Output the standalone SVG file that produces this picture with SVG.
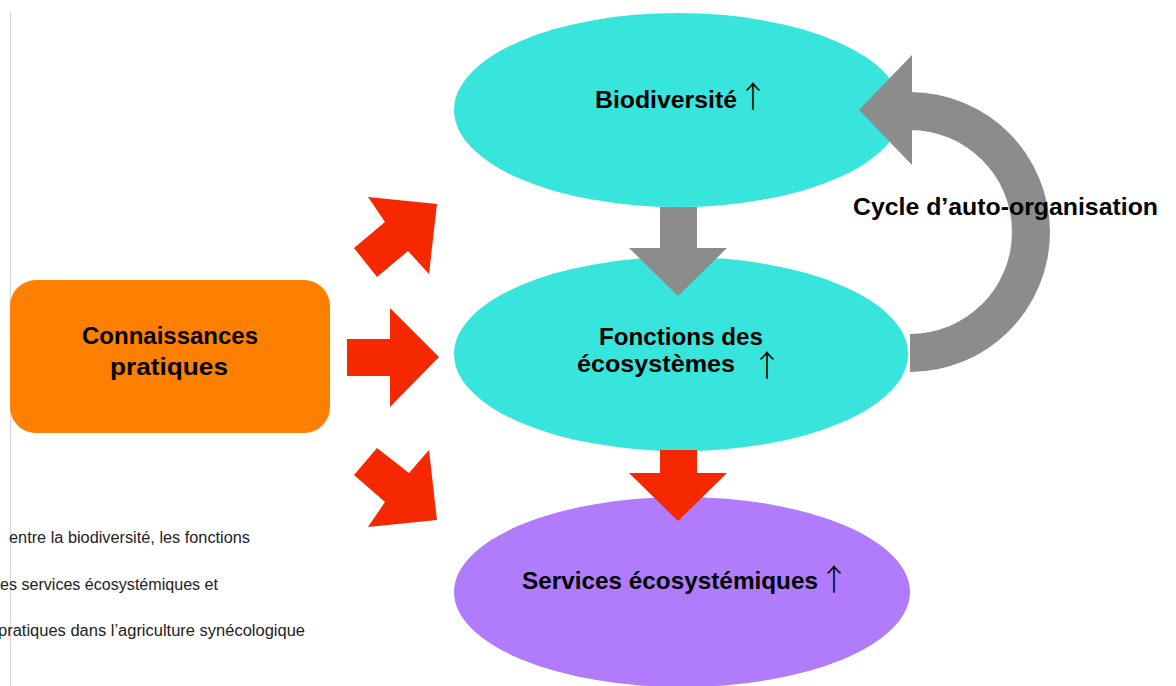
<svg xmlns="http://www.w3.org/2000/svg" width="1176" height="686" viewBox="0 0 1176 686">
<style>
.lbl{font-family:"Liberation Sans",Arial,sans-serif;font-weight:bold;font-size:24px;fill:#000}
.arr{font-family:"Noto Sans CJK SC","Liberation Serif",sans-serif;font-weight:300;font-size:30px;fill:#000}
.cap{font-family:"Liberation Sans",Arial,sans-serif;font-size:16px;fill:#222}
.red{fill:#F52800}
.gray{fill:#8C8C8C}
</style>
<rect width="1176" height="686" fill="#fff"/>
<line x1="10.5" y1="12" x2="10.5" y2="686" stroke="#d4d4d4" stroke-width="1.2"/>
<g id="caption">
<text class="cap" x="9" y="543" textLength="241" lengthAdjust="spacingAndGlyphs">entre la biodiversité, les fonctions</text>
<text class="cap" x="0" y="590" textLength="218" lengthAdjust="spacingAndGlyphs">es services écosystémiques et</text>
<text class="cap" x="-2" y="636" textLength="307" lengthAdjust="spacingAndGlyphs">pratiques dans l’agriculture synécologique</text>
</g>
<g id="connaissances">
<rect x="10" y="280" width="320" height="153" rx="26" ry="26" fill="#FF8000"/>
<text class="lbl" x="170" y="344" text-anchor="middle" textLength="176" lengthAdjust="spacingAndGlyphs">Connaissances</text>
<text class="lbl" x="169" y="375" text-anchor="middle" textLength="118" lengthAdjust="spacingAndGlyphs">pratiques</text>
</g>
<g id="biodiversite">
<ellipse cx="678" cy="110" rx="224" ry="97" fill="#38E5DC"/>
<text class="lbl" x="595" y="108" textLength="142" lengthAdjust="spacingAndGlyphs">Biodiversité</text>
<text class="arr" x="753" y="107" text-anchor="middle">↑</text>
</g>
<g id="fonctions">
<ellipse cx="681" cy="354" rx="227" ry="97" fill="#38E5DC"/>
<text class="lbl" x="599" y="345" textLength="164" lengthAdjust="spacingAndGlyphs">Fonctions des</text>
<text class="lbl" x="577" y="372" textLength="158" lengthAdjust="spacingAndGlyphs">écosystèmes</text>
<text class="arr" x="767" y="376" text-anchor="middle">↑</text>
</g>
<g id="services">
<ellipse cx="682" cy="592" rx="228" ry="95" fill="#B07CFC"/>
<text class="lbl" x="522" y="589" textLength="296" lengthAdjust="spacingAndGlyphs">Services écosystémiques</text>
<text class="arr" x="834" y="590" text-anchor="middle">↑</text>
</g>
<g id="connectors">
<polygon class="red" points="368,197 437,204 429,274 408,251 377,277 354,248 385,222"/>
<polygon class="red" points="347,339 390,339 390,308 439,357 390,407 390,376 347,376"/>
<polygon class="red" points="377,448 409,473 429,450 437,520 368,527 385,502 354,475"/>
<polygon class="gray" points="660,207 697,207 697,248 727,248 678,296 629,248 660,248"/>
<polygon class="red" points="660,450 697,450 697,473 727,473 678,521 629,473 660,473"/>
<path class="gray" d="M910,372 A140,140 0 0 0 910,92 L912,92 L912,55 L859,110 L912,165 L912,130 L910,130 A102,102 0 0 1 910,334 Z"/>
<text class="lbl" x="853" y="215" textLength="305" lengthAdjust="spacingAndGlyphs">Cycle d’auto-organisation</text>
</g>
</svg>
